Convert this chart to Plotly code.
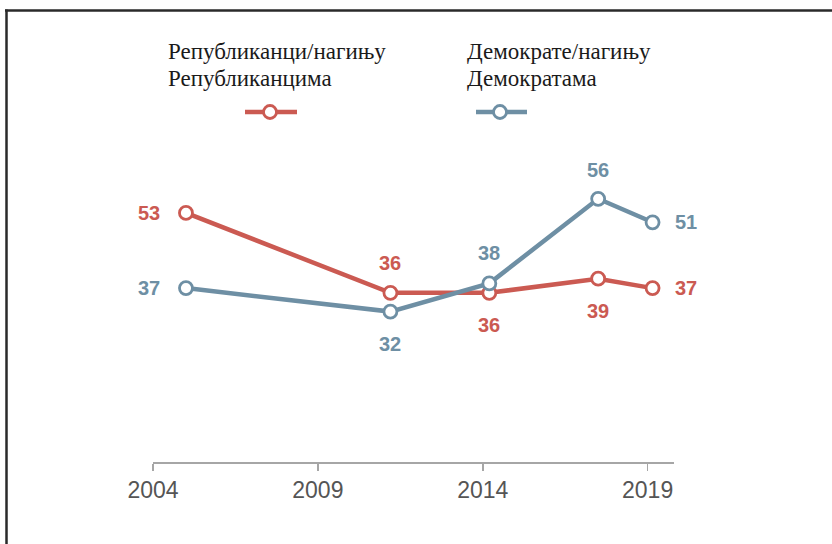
import plotly.graph_objects as go

# ---- data ----
years = [2005.0, 2011.2, 2014.2, 2017.5, 2019.15]
rep_values = [53, 36, 36, 39, 37]
dem_values = [37, 32, 38, 56, 51]
tick_years = [2004, 2009, 2014, 2019]
tick_labels = ["2004", "2009", "2014", "2019"]
rep_name_lines = ["Републиканци/нагињу", "Републиканцима"]
dem_name_lines = ["Демократе/нагињу", "Демократама"]

# label placement per point (dx, dy in px)
rep_offsets = [(-37, 0), (0, 30), (0, -32), (0, -32), (33, 0)]
dem_offsets = [(-37, 0), (0, -32), (0, 30), (0, 29), (33, 0)]

RED = "#CB5A52"
BLUE = "#6E8FA4"

W, H = 832, 544
ML, MR = 153, 158
MT, MB = 180, 82
PW = W - ML - MR
PH = H - MT - MB


def px(x):
    return (x - ML) / PW


def py(y):
    return (H - MB - y) / PH


fig = go.Figure()
for vals, color in [(rep_values, RED), (dem_values, BLUE)]:
    fig.add_trace(go.Scatter(
        x=years, y=vals, mode="lines+markers",
        line=dict(color=color, width=4.5),
        marker=dict(size=13, color="white", line=dict(color=color, width=2.8)),
        cliponaxis=False, hoverinfo="skip", showlegend=False,
    ))

annotations = []
for vals, offs, color in [(rep_values, rep_offsets, RED), (dem_values, dem_offsets, BLUE)]:
    for x, v, (dx, dy) in zip(years, vals, offs):
        annotations.append(dict(
            x=x, y=v, xref="x", yref="y", text=str(v), showarrow=False,
            xshift=dx, yshift=dy, xanchor="center", yanchor="middle",
            font=dict(family="Liberation Sans", size=20, color=color, weight="bold"),
        ))

# legend texts (one annotation per line for tight line spacing)
for lines, x0 in [(rep_name_lines, 166), (dem_name_lines, 465)]:
    for line, yc in zip(lines, [51, 78]):
        annotations.append(dict(
            x=px(x0), y=py(yc), xref="paper", yref="paper", text=line,
            showarrow=False, xanchor="left", yanchor="middle", align="left",
            font=dict(family="Liberation Serif", size=23, color="#1a1a1a"),
        ))

shapes = []
for color, xl, xr, xc in [(RED, 245, 297, 270), (BLUE, 476, 527, 500)]:
    shapes.append(dict(type="line", xref="paper", yref="paper",
                       x0=px(xl), x1=px(xr), y0=py(112), y1=py(112),
                       line=dict(color=color, width=4.5), layer="above"))
    shapes.append(dict(type="circle", xref="paper", yref="paper",
                       xsizemode="pixel", ysizemode="pixel",
                       xanchor=px(xc), yanchor=py(112),
                       x0=-6.5, x1=6.5, y0=-6.5, y1=6.5,
                       fillcolor="white", line=dict(color=color, width=2.8),
                       layer="above"))

# frame lines (top and left)
shapes.append(dict(type="line", xref="paper", yref="paper",
                   x0=px(5), x1=px(834), y0=py(10.5), y1=py(10.5),
                   line=dict(color="#2a2a2a", width=2.5), layer="above"))
shapes.append(dict(type="line", xref="paper", yref="paper",
                   x0=px(6.5), x1=px(6.5), y0=py(9.5), y1=py(546),
                   line=dict(color="#2a2a2a", width=2.5), layer="above"))

fig.update_layout(
    width=W, height=H,
    margin=dict(l=ML, r=MR, t=MT, b=MB, pad=0),
    paper_bgcolor="white", plot_bgcolor="white",
    showlegend=False,
    annotations=annotations, shapes=shapes,
    xaxis=dict(range=[2004, 2019.8], tickvals=tick_years, ticktext=tick_labels,
               showgrid=False, zeroline=False, showline=True,
               linecolor="#a6a6a6", linewidth=1.5,
               ticks="outside", ticklen=7, tickwidth=1.5, tickcolor="#a6a6a6",
               ticklabelstandoff=0,
               tickfont=dict(family="Liberation Sans", size=23, color="#555555"),
               fixedrange=True),
    yaxis=dict(range=[0, 60], visible=False, showgrid=False, zeroline=False,
               fixedrange=True),
)

fig.write_html(
    "out.html",
    config={"displayModeBar": False, "staticPlot": True},
    post_script="document.body.style.margin='0px';document.body.style.overflow='hidden';",
)
